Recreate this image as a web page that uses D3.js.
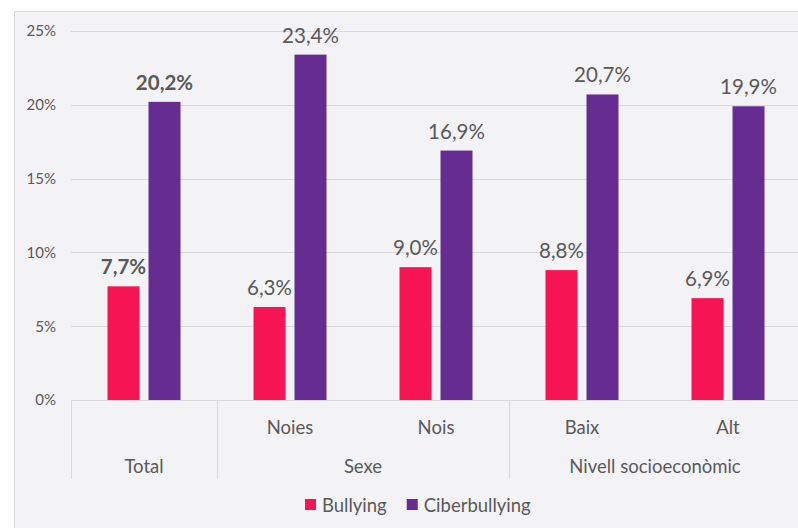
<!DOCTYPE html>
<html>
<head>
<meta charset="utf-8">
<script src="https://cdn.jsdelivr.net/npm/d3@7"></script>
<style>
  body { margin: 0; background: #fff; }
  text { font-family: Lato, "Open Sans", sans-serif; fill: #595959; }
</style>
</head>
<body>
<div id="chart"></div>
<script>
const WIDTH = 798, HEIGHT = 528;

// data
const categories = ["Total", "Noies", "Nois", "Baix", "Alt"];
const subLabels = ["", "Noies", "Nois", "Baix", "Alt"];
const groups = [
  { name: "Total", from: "Total", to: "Total" },
  { name: "Sexe", from: "Noies", to: "Nois" },
  { name: "Nivell socioeconòmic", from: "Baix", to: "Alt" }
];
const seriesNames = ["Bullying", "Ciberbullying"];
const bullying = [7.7, 6.3, 9.0, 8.8, 6.9];
const ciberbullying = [20.2, 23.4, 16.9, 20.7, 19.9];
const colors = ["#F71455", "#672C91"];
const yTicks = [0, 5, 10, 15, 20, 25];

const rows = categories.map((c, i) => ({ cat: c, vals: [bullying[i], ciberbullying[i]] }));

const svg = d3.select("#chart").append("svg")
  .attr("width", WIDTH).attr("height", HEIGHT);

// chart area background
svg.append("rect")
  .attr("x", 14.5).attr("y", 11.5)
  .attr("width", 820).attr("height", 530)
  .attr("fill", "#f3f3f5").attr("stroke", "#d9d9d9");

const x0 = d3.scaleBand().domain(categories).range([71, 801]).padding(0);
const x1 = d3.scaleBand().domain(seriesNames).range([0, x0.bandwidth()])
  .paddingInner(9 / 41).paddingOuter(36.5 / 41);
const y = d3.scaleLinear().domain([0, 25]).range([400, 31]);

// gridlines
svg.append("g").selectAll("line").data(yTicks.filter(t => t > 0)).join("line")
  .attr("x1", 71).attr("x2", 801)
  .attr("y1", d => Math.round(y(d)) + 0.5).attr("y2", d => Math.round(y(d)) + 0.5)
  .attr("stroke", "#d9d9d9").attr("stroke-width", 1);

// y tick labels
svg.append("g").selectAll("text").data(yTicks).join("text")
  .attr("x", 56).attr("y", d => y(d))
  .attr("dy", "0.36em")
  .attr("text-anchor", "end")
  .style("font-size", "15px")
  .text(d => d + "%");

// bars
const grp = svg.append("g").selectAll("g").data(rows).join("g")
  .attr("transform", d => `translate(${x0(d.cat)},0)`);

grp.selectAll("rect").data(d => d.vals.map((v, i) => ({ s: seriesNames[i], v, i }))).join("rect")
  .attr("x", d => x1(d.s))
  .attr("y", d => y(d.v))
  .attr("width", x1.bandwidth())
  .attr("height", d => y(0) - y(d.v))
  .attr("fill", d => colors[d.i]);

grp.selectAll("text").data((d, gi) => d.vals.map((v, i) => ({ s: seriesNames[i], v, bold: gi === 0 }))).join("text")
  .attr("x", d => x1(d.s) + x1.bandwidth() / 2)
  .attr("y", d => y(d.v) - 12)
  .attr("text-anchor", "middle")
  .style("font-size", "20.5px")
  .style("font-weight", d => d.bold ? "bold" : "normal")
  .text(d => d.v.toFixed(1).replace(".", ",") + "%");

// axis line
svg.append("line")
  .attr("x1", 71).attr("x2", 801).attr("y1", 400.5).attr("y2", 400.5)
  .attr("stroke", "#d9d9d9");

// group separators
const sepX = [x0("Total"), x0("Noies"), x0("Baix")];
svg.append("g").selectAll("line").data(sepX).join("line")
  .attr("x1", d => Math.round(d) + 0.5).attr("x2", d => Math.round(d) + 0.5)
  .attr("y1", 400).attr("y2", 479)
  .attr("stroke", "#d9d9d9");

// sub-category labels
svg.append("g").selectAll("text").data(categories).join("text")
  .attr("x", d => x0(d) + x0.bandwidth() / 2)
  .attr("y", 427).attr("dy", "0.36em")
  .attr("text-anchor", "middle")
  .style("font-size", "18.5px")
  .text((d, i) => subLabels[i]);

// group labels
svg.append("g").selectAll("text").data(groups).join("text")
  .attr("x", d => (x0(d.from) + x0(d.to) + x0.bandwidth()) / 2)
  .attr("y", 466).attr("dy", "0.36em")
  .attr("text-anchor", "middle")
  .style("font-size", "18.5px")
  .text(d => d.name);

// legend
const leg = svg.append("g");
let lx = 305;
seriesNames.forEach((name, i) => {
  leg.append("rect").attr("x", lx).attr("y", 499).attr("width", 11).attr("height", 11)
    .attr("fill", colors[i]);
  const t = leg.append("text").attr("x", lx + 17).attr("y", 505).attr("dy", "0.36em")
    .style("font-size", "18.5px").text(name);
  lx += 17 + t.node().getComputedTextLength() + 20;
});
</script>
</body>
</html>
